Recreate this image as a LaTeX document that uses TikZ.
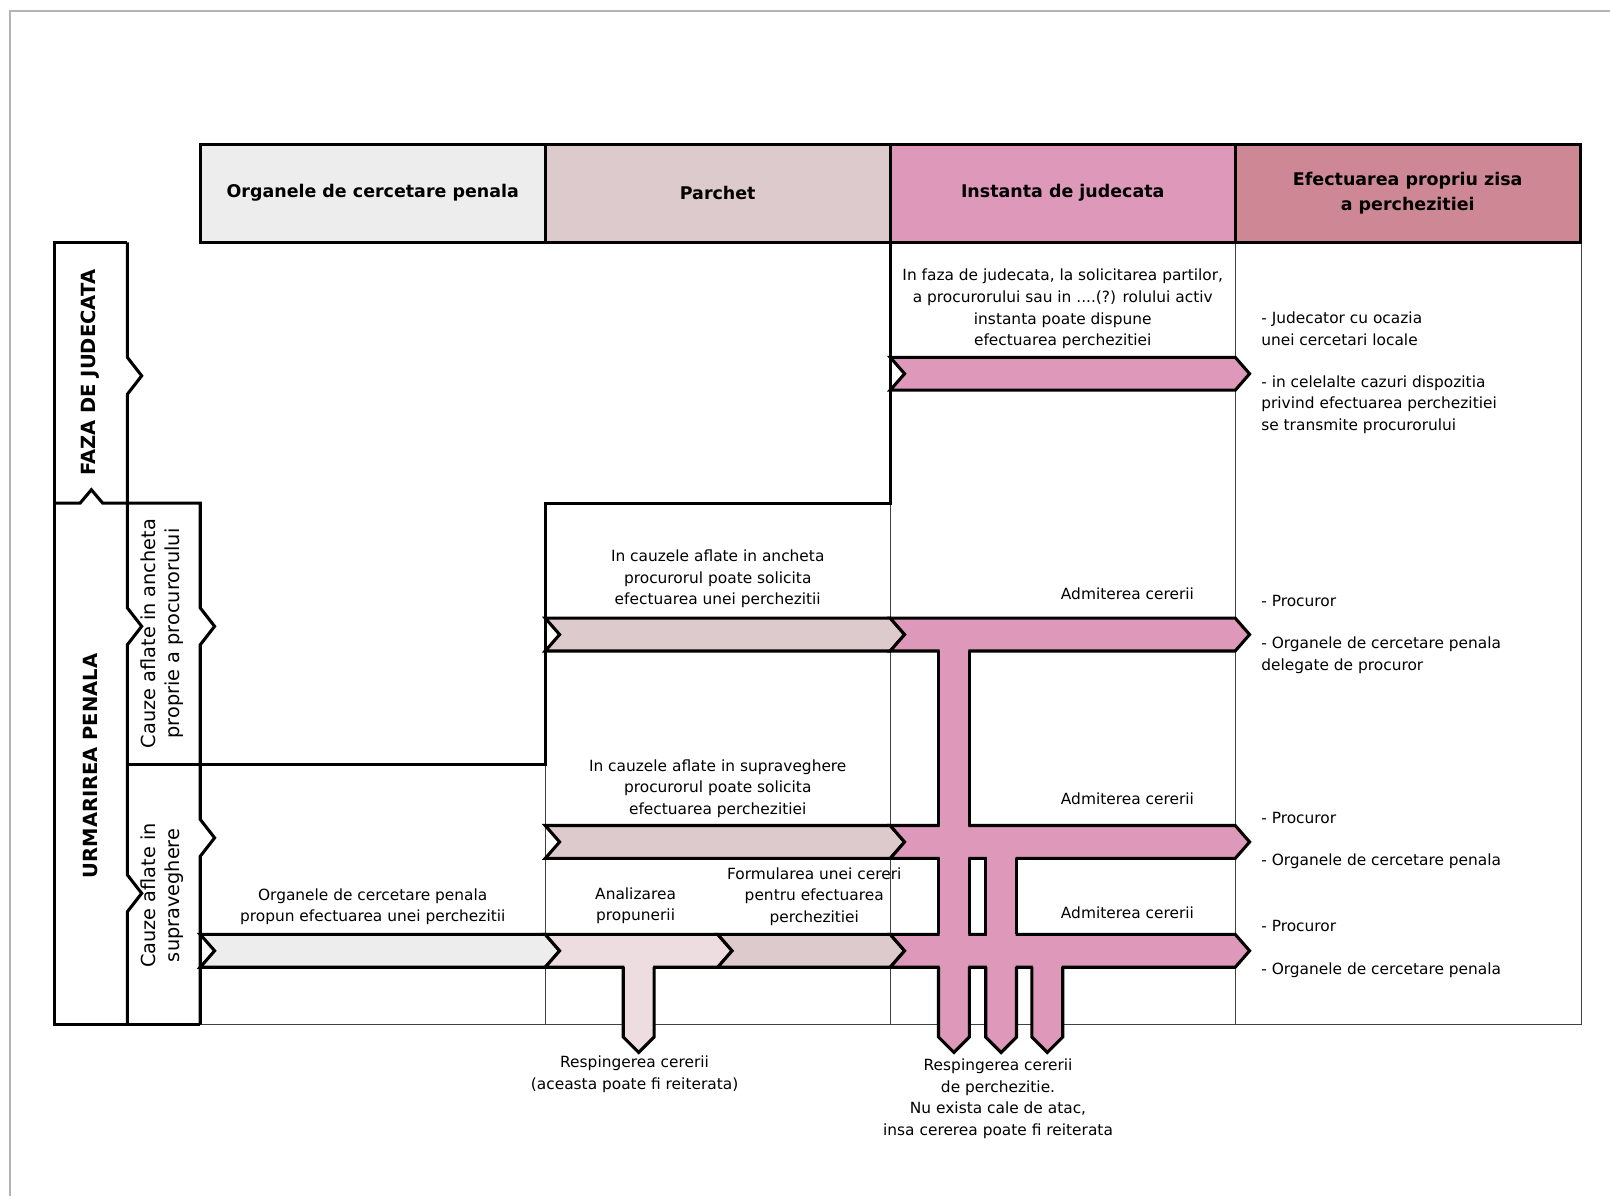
\documentclass[tikz,border=0pt]{standalone}
\usepackage{fontspec}
\setmainfont{DejaVu Sans}
\usepackage{tikz}
\usetikzlibrary{positioning}

\definecolor{cGrey}{HTML}{EDEDED}
\definecolor{cLight}{HTML}{EDDDE0}
\definecolor{cParchet}{HTML}{DDCACC}
\definecolor{cInst}{HTML}{DE98BA}
\definecolor{cEfect}{HTML}{CE8795}
\definecolor{cFrame}{HTML}{B4B4B4}

% chevron band: x from, x to, y top, y bottom, fill
\newcommand{\chev}[5]{%
  \filldraw[fill=#5,bold line] (#1,#3) -- (#2,#3) -- ({#2+14},{(#3+#4)/2}) -- (#2,#4)
    -- (#1,#4) -- ({#1+14},{(#3+#4)/2}) -- cycle;}
% downward bar: left x, start y, fill
\newcommand{\drop}[3]{%
  \fill[#3] ({#1+1},#2) -- ({#1+1},1009) -- ({#1+15},1024) -- ({#1+29},1009) -- ({#1+29},#2) -- cycle;
  \draw[bold line] (#1,942) -- (#1,1010) -- ({#1+15},1025) -- ({#1+30},1010) -- ({#1+30},942);}

\begin{document}
\begin{tikzpicture}[x=0.5pt,y=-0.5pt,
  every node/.style={inner sep=0pt},
  txt/.style={font=\fontsize{7.5}{10.5}\selectfont,align=center},
  side/.style={font=\fontsize{7.5}{10.5}\selectfont,align=left,anchor=west},
  head/.style={font=\fontsize{8.5}{12.5}\selectfont\bfseries,align=center},
  phase/.style={font=\fontsize{9.5}{12}\selectfont\bfseries,rotate=90},
  cause/.style={font=\fontsize{9.4}{12}\selectfont,align=center,rotate=90},
  thin line/.style={line width=0.5pt,draw=black!75},
  bold line/.style={line width=1.5pt,draw=black}]

  \useasboundingbox (0,0) rectangle (1568,1165);
  \draw[cFrame,line width=1pt] (10,1165) -- (10,11) -- (1568,11);

  % grid
  \draw[thin line] (1203,236) -- (1203,998) (1540,236) -- (1540,998) (195,998) -- (1540,998)
    (867,490) -- (867,998) (531,745) -- (531,998);
  \draw[bold line] (867,236) -- (867,490) -- (531,490) -- (531,745) -- (124,745);

  % header
  \foreach \x/\c in {195/cGrey,531/cParchet,867/cInst,1203/cEfect}
    \filldraw[fill=\c,bold line] (\x,141) rectangle ++(336,95);
  \node[head] (h1) at (363,188) {Organele de cercetare penala};
  \node[head] (h2) at (699,188) {Parchet};
  \node[head] (h3) at (1035,188) {Instanta de judecata};
  \node[head] (h4) at (1371,188) {Efectuarea propriu zisa\\a perchezitiei};

  % phases
  \draw[bold line] (124,236) -- (53,236) -- (53,998) -- (195,998);
  \draw[bold line] (124,236) -- (124,348) -- (138,366) -- (124,384) -- (124,592) -- (138,610)
    -- (124,628) -- (124,852) -- (138,870) -- (124,888) -- (124,998);
  \draw[bold line] (53,490) -- (78,490) -- (89,477) -- (100,490) -- (195,490) -- (195,592)
    -- (209,610) -- (195,628) -- (195,798) -- (209,816) -- (195,834) -- (195,998);
  \node[phase] (faza) at (88,363) {FAZA DE JUDECATA};
  \node[phase] (urm) at (88,746) {URMARIREA PENALA};
  \node[cause] (anch) at (158,617) {Cauze aflate in ancheta\\proprie a procurorului};
  \node[cause] (supr) at (158,872) {Cauze aflate in\\supraveghere};

  % bands
  \chev{867}{1203}{348}{380}{cInst}
  \chev{531}{867}{602}{634}{cParchet} \chev{867}{1203}{602}{634}{cInst}
  \chev{531}{867}{804}{836}{cParchet} \chev{867}{1203}{804}{836}{cInst}
  \chev{195}{531}{910}{942}{cGrey} \chev{531}{699}{910}{942}{cLight}
  \chev{699}{867}{910}{942}{cParchet} \chev{867}{1203}{910}{942}{cInst}

  % rejections
  \drop{607}{926}{cLight}
  \drop{914}{618}{cInst}
  \drop{960}{820}{cInst}
  \drop{1005}{926}{cInst}
  \draw[bold line] (914,634) -- (914,804) (944,634) -- (944,804)
    (914,836) -- (914,910) (944,836) -- (944,910)
    (960,836) -- (960,910) (990,836) -- (990,910);

  % texts
  \node[txt] (q1) at (1035,301) {In faza de judecata, la solicitarea partilor,\\a procurorului sau in ....(?) rolului activ\\instanta poate dispune\\efectuarea perchezitiei};
  \node[side] (s1) at (1228,320) {- Judecator cu ocazia\\unei cercetari locale};
  \node[side] (s2) at (1228,394) {- in celelalte cazuri dispozitia\\privind efectuarea perchezitiei\\se transmite procurorului};

  \node[txt] (r1) at (699,564) {In cauzele aflate in ancheta\\procurorul poate solicita\\efectuarea unei perchezitii};
  \node[txt] (a1) at (1098,578) {Admiterea cererii};
  \node[side] (p1) at (1228,585) {- Procuror};
  \node[side] (o1) at (1228,638) {- Organele de cercetare penala\\delegate de procuror};

  \node[txt] (r2) at (699,768) {In cauzele aflate in supraveghere\\procurorul poate solicita\\efectuarea perchezitiei};
  \node[txt] (a2) at (1098,778) {Admiterea cererii};
  \node[side] (p2) at (1228,797) {- Procuror};
  \node[side] (o2) at (1228,839) {- Organele de cercetare penala};

  \node[txt] (r3) at (363,883) {Organele de cercetare penala\\propun efectuarea unei perchezitii};
  \node[txt] (an) at (619,882) {Analizarea\\propunerii};
  \node[txt] (fc) at (793,873) {Formularea unei cereri\\pentru efectuarea\\perchezitiei};
  \node[txt] (a3) at (1098,889) {Admiterea cererii};
  \node[side] (p3) at (1228,902) {- Procuror};
  \node[side] (o3) at (1228,945) {- Organele de cercetare penala};

  \node[txt] (rj1) at (618,1046) {Respingerea cererii\\(aceasta poate fi reiterata)};
  \node[txt] (rj2) at (972,1070) {Respingerea cererii\\de perchezitie.\\Nu exista cale de atac,\\insa cererea poate fi reiterata};
\end{tikzpicture}
\end{document}
